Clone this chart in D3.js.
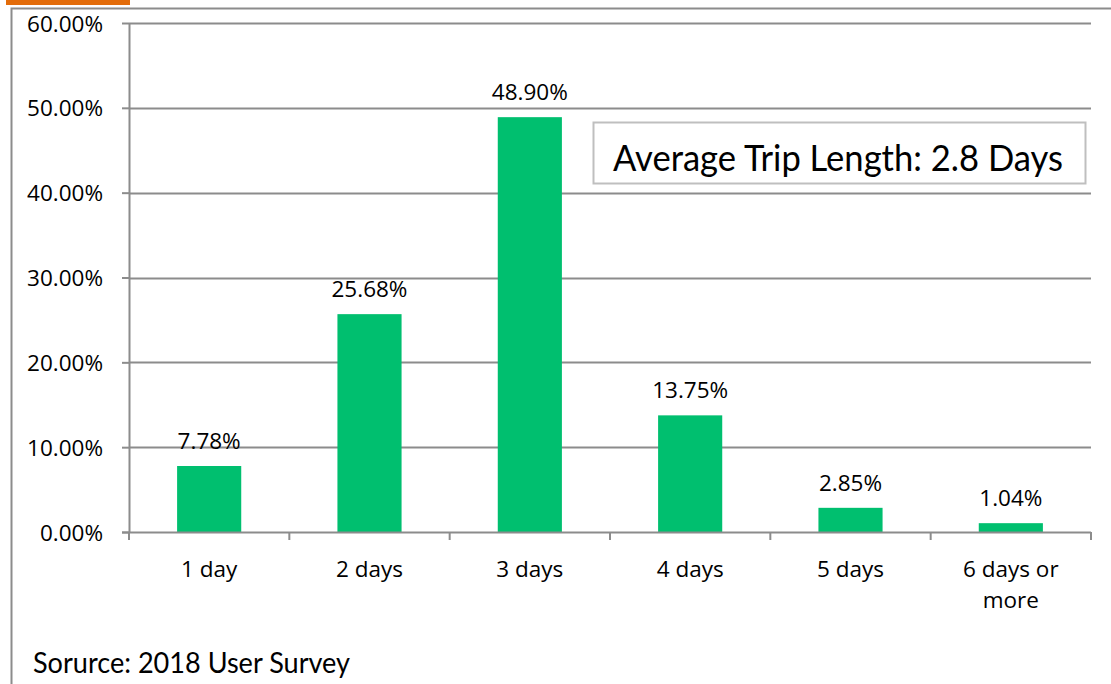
<!DOCTYPE html>
<html>
<head>
<meta charset="utf-8">
<script src="https://cdn.jsdelivr.net/npm/d3@7"></script>
<style>
  html, body { margin: 0; padding: 0; background: #fff; }
  svg { display: block; }
</style>
</head>
<body>
<div id="chart"></div>
<script>
// Trip length distribution, 2018 user survey
const categories = ['1 day', '2 days', '3 days', '4 days', '5 days', '6 days or more'];
const shares = [7.78, 25.68, 48.90, 13.75, 2.85, 1.04];
const yTicks = [0, 10, 20, 30, 40, 50, 60];
const noteText = 'Average Trip Length:  2.8 Days';
const sourceText = 'Sorurce: 2018  User Survey';

const width = 1111;
const height = 684;
const margin = { top: 23, right: 20, bottom: 152, left: 129 };
const labelFont = 'Open Sans, sans-serif';
const labelSize = 22.5;

const svg = d3.select('#chart')
  .append('svg')
  .attr('width', width)
  .attr('height', height);

// Orange tab + outer frame
svg.append('rect')
  .attr('x', 6).attr('y', 0)
  .attr('width', 124).attr('height', 5)
  .attr('fill', '#e36c0a');

svg.append('path')
  .attr('d', `M11.5,${height} V8.5 H${width}`)
  .attr('fill', 'none')
  .attr('stroke', '#8c8c8c')
  .attr('stroke-width', 2);

const x = d3.scaleBand()
  .domain(categories)
  .range([margin.left, width - margin.right])
  .paddingInner(0.6)
  .paddingOuter(0.3);

const y = d3.scaleLinear()
  .domain([0, 60])
  .range([height - margin.bottom, margin.top]);

// Gridlines
svg.append('g')
  .selectAll('line')
  .data(yTicks.filter(d => d > 0))
  .join('line')
  .attr('x1', margin.left)
  .attr('x2', width - margin.right)
  .attr('y1', d => Math.round(y(d)) + 0.5)
  .attr('y2', d => Math.round(y(d)) + 0.5)
  .attr('stroke', '#8c8c8c')
  .attr('stroke-width', 2);

// Y axis
const yAxis = svg.append('g')
  .attr('transform', `translate(${margin.left},0)`)
  .call(d3.axisLeft(y).tickValues(yTicks).tickSize(7).tickSizeOuter(0)
    .tickFormat(d => d.toFixed(2) + '%'));
yAxis.selectAll('path, line').attr('stroke', '#8c8c8c').attr('stroke-width', 2);
yAxis.selectAll('text')
  .attr('x', -26)
  .attr('dy', '0.36em')
  .attr('font-family', labelFont)
  .attr('font-size', labelSize)
  .attr('fill', '#000');

// Bars
svg.append('g')
  .selectAll('rect')
  .data(shares)
  .join('rect')
  .attr('x', (d, i) => x(categories[i]))
  .attr('y', d => y(d))
  .attr('width', x.bandwidth())
  .attr('height', d => y(0) - y(d))
  .attr('fill', '#00bf6f');

// Value labels
svg.append('g')
  .selectAll('text')
  .data(shares)
  .join('text')
  .attr('x', (d, i) => x(categories[i]) + x.bandwidth() / 2)
  .attr('y', d => y(d) - 17)
  .attr('text-anchor', 'middle')
  .attr('font-family', labelFont)
  .attr('font-size', labelSize)
  .text(d => d.toFixed(2) + '%');

// X axis: ticks at category boundaries
const boundaries = d3.range(categories.length + 1)
  .map(i => margin.left + i * (width - margin.right - margin.left) / categories.length);
const xg = svg.append('g');
xg.append('line')
  .attr('x1', margin.left - 7).attr('x2', width - margin.right)
  .attr('y1', y(0) + 0.5).attr('y2', y(0) + 0.5)
  .attr('stroke', '#8c8c8c').attr('stroke-width', 2);
xg.selectAll('.tick')
  .data(boundaries)
  .join('line')
  .attr('x1', d => d).attr('x2', d => d)
  .attr('y1', y(0)).attr('y2', y(0) + 8)
  .attr('stroke', '#8c8c8c').attr('stroke-width', 2);

// Category labels (wrap the long one)
const labelLines = categories.map(c => c === '6 days or more' ? ['6 days or', 'more'] : [c]);
xg.selectAll('text')
  .data(categories)
  .join('text')
  .attr('x', d => x(d) + x.bandwidth() / 2)
  .attr('y', y(0) + 45)
  .attr('text-anchor', 'middle')
  .attr('font-family', labelFont)
  .attr('font-size', labelSize)
  .each(function(d, i) {
    d3.select(this).selectAll('tspan')
      .data(labelLines[i])
      .join('tspan')
      .attr('x', x(d) + x.bandwidth() / 2)
      .attr('dy', (t, j) => j === 0 ? 0 : 31)
      .text(t => t);
  });

// Note box
svg.append('rect')
  .attr('x', 593.5).attr('y', 122.5)
  .attr('width', 492).attr('height', 61)
  .attr('fill', '#fff')
  .attr('stroke', '#bfbfbf')
  .attr('stroke-width', 2);
svg.append('text')
  .attr('x', 838).attr('y', 171)
  .attr('text-anchor', 'middle')
  .attr('font-family', 'Lato, sans-serif')
  .attr('font-size', 37)
  .attr('textLength', 450)
  .attr('lengthAdjust', 'spacingAndGlyphs')
  .text(noteText);

// Source
svg.append('text')
  .attr('x', 33).attr('y', 673)
  .attr('font-family', 'Lato, sans-serif')
  .attr('font-size', 28)
  .attr('textLength', 317)
  .attr('lengthAdjust', 'spacingAndGlyphs')
  .text(sourceText);
</script>
</body>
</html>
